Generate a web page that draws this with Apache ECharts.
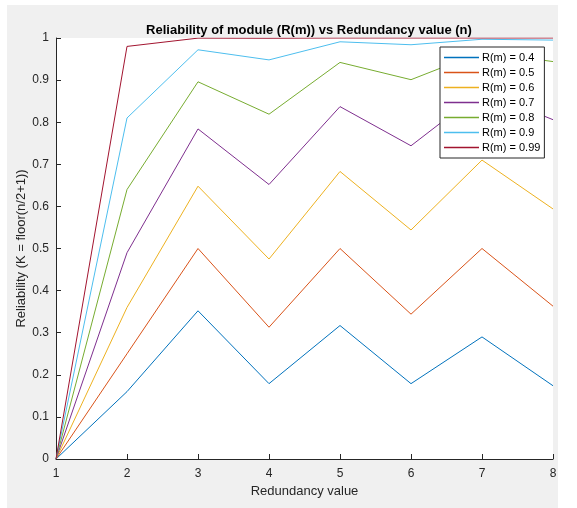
<!DOCTYPE html>
<html>
<head>
<meta charset="utf-8">
<script src="https://cdn.jsdelivr.net/npm/echarts@6/dist/echarts.min.js"></script>
<style>
  html, body { margin: 0; padding: 0; background: #fff; }
  #chart { width: 577px; height: 508px; }
</style>
</head>
<body>
<div id="chart"></div>
<script>
// redundancy value n (x axis)
const nValues = [1, 2, 3, 4, 5, 6, 7, 8]
const seriesNames = ['R(m) = 0.4', 'R(m) = 0.5', 'R(m) = 0.6', 'R(m) = 0.7', 'R(m) = 0.8', 'R(m) = 0.9', 'R(m) = 0.99']
// values
const r04 = [0, 0.160, 0.352, 0.179, 0.317, 0.179, 0.290, 0.174]
const r05 = [0, 0.250, 0.500, 0.313, 0.500, 0.344, 0.500, 0.363]
const r06 = [0, 0.360, 0.648, 0.475, 0.683, 0.544, 0.710, 0.594]
const r07 = [0, 0.490, 0.784, 0.652, 0.837, 0.744, 0.874, 0.806]
const r08 = [0, 0.640, 0.896, 0.819, 0.942, 0.901, 0.967, 0.944]
const r09 = [0, 0.810, 0.972, 0.948, 0.991, 0.984, 0.997, 0.995]
const r099 = [0, 0.980, 0.9997, 0.9994, 1.000, 1.000, 1.000, 1.000]
const yTicks = [0, 0.1, 0.2, 0.3, 0.4, 0.5, 0.6, 0.7, 0.8, 0.9, 1]

const allValues = [r04, r05, r06, r07, r08, r09, r099]
const colors = ['#0072BD', '#D95319', '#EDB120', '#7E2F8E', '#77AC30', '#4DBEEE', '#A2142F']

const chart = echarts.init(document.getElementById('chart'))
const font = 'Liberation Sans, Arial, sans-serif'
const axisColor = '#262626'

const series = allValues.map((vals, i) => {
  return {
    name: seriesNames[i],
    type: 'line',
    symbol: 'none',
    data: vals.map((v, k) => [nValues[k], v]),
    lineStyle: { width: 1, color: colors[i] },
    itemStyle: { color: colors[i] }
  }
})

chart.setOption({
  animation: false,
  graphic: {
    elements: [{
      type: 'rect',
      z: -10,
      silent: true,
      shape: { x: 7, y: 5, width: 551, height: 503 },
      style: { fill: '#f0f0f0' }
    }]
  },
  title: {
    text: 'Reliability of module (R(m)) vs Redundancy value (n)',
    left: 304,
    textAlign: 'center',
    top: 19,
    textStyle: { fontFamily: font, fontSize: 13, fontWeight: 'bold', color: '#000' }
  },
  grid: {
    left: 56,
    right: 24,
    top: 38,
    bottom: 49,
    show: true,
    backgroundColor: '#fff',
    borderWidth: 0
  },
  legend: {
    orient: 'vertical',
    left: 440,
    top: 47,
    padding: [4, 4, 4, 4],
    itemGap: 2,
    itemWidth: 35,
    itemHeight: 1.5,
    icon: 'rect',
    backgroundColor: '#fff',
    borderColor: '#262626',
    borderWidth: 1,
    borderRadius: 0,
    data: seriesNames,
    textStyle: { fontFamily: font, fontSize: 11, color: '#000', padding: [0, 0, 0, -2], lineHeight: 13 }
  },
  xAxis: {
    type: 'value',
    min: 1,
    max: 8,
    interval: 1,
    name: 'Redundancy value',
    nameLocation: 'middle',
    nameGap: 25,
    nameTextStyle: { fontFamily: font, fontSize: 13, color: '#262626' },
    axisLine: { lineStyle: { color: axisColor, width: 1 } },
    axisTick: { inside: true, length: 5, lineStyle: { color: axisColor } },
    axisLabel: { fontFamily: font, fontSize: 12, color: '#262626', margin: 9 },
    splitLine: { show: false }
  },
  yAxis: {
    type: 'value',
    min: 0,
    max: 1,
    interval: 0.1,
    name: 'Reliability (K = floor(n/2+1))',
    nameLocation: 'middle',
    nameGap: 28,
    nameMoveOverlap: false,
    nameTextStyle: { fontFamily: font, fontSize: 13, color: '#262626' },
    axisLine: { show: true, lineStyle: { color: axisColor, width: 1 } },
    axisTick: { show: true, inside: true, length: 5, lineStyle: { color: axisColor } },
    axisLabel: {
      fontFamily: font,
      fontSize: 12,
      color: '#262626',
      margin: 7,
      formatter: v => {
        const t = yTicks.find(x => Math.abs(x - v) < 1e-9)
        return t === undefined ? '' : String(t)
      }
    },
    splitLine: { show: false }
  },
  series: series
})
</script>
</body>
</html>
